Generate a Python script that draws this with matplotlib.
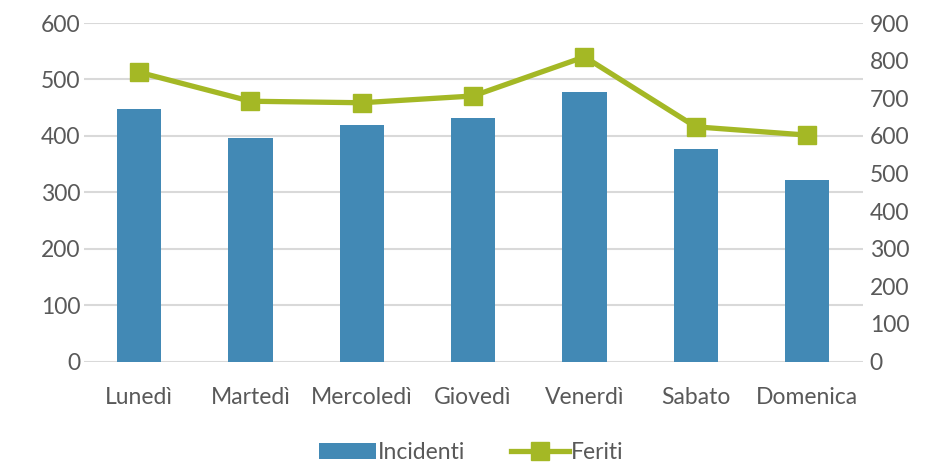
import matplotlib.pyplot as plt
import numpy as np

plt.rcParams['font.family'] = ['Lato', 'DejaVu Sans']

giorni = ["Lunedì", "Martedì", "Mercoledì", "Giovedì", "Venerdì", "Sabato", "Domenica"]
incidenti = [447, 396, 419, 432, 478, 377, 322]
feriti = [769, 692, 688, 706, 810, 624, 602]

blue = "#4289b5"
green = "#a4b825"
grey = "#595959"

fig = plt.figure(figsize=(9.33, 4.63), dpi=100)
ax = fig.add_axes([0.0895, 0.2192, 0.8352, 0.7311])
ax2 = ax.twinx()

x = np.arange(len(giorni))
bars = ax.bar(x, incidenti, width=0.4, color=blue, label="Incidenti", zorder=2)
line, = ax2.plot(x, feriti, color=green, linewidth=3.8, marker="s", markersize=13,
                 label="Feriti", zorder=3)

ax.set_xlim(-0.5, len(giorni) - 0.5)
ax.set_ylim(0, 600)
ax2.set_ylim(0, 900)
ax.set_yticks(range(0, 601, 100))
ax2.set_yticks(range(0, 901, 100))
ax.set_xticks(x)
ax.set_xticklabels(giorni)

ax.grid(axis="y", color="#d9d9d9", linewidth=1.5, zorder=0)
ax.set_axisbelow(True)
for a in (ax, ax2):
    for s in a.spines.values():
        s.set_visible(False)
    a.tick_params(length=0, labelsize=16.5, colors=grey)
ax.tick_params(axis="y", pad=2)
ax2.tick_params(axis="y", pad=5)
ax.tick_params(axis="x", pad=18)

fig.legend([bars, line], ["Incidenti", "Feriti"], loc="center", bbox_to_anchor=(0.505, 0.022),
           ncol=2, frameon=False, fontsize=16.5, labelcolor=grey, handlelength=2.5,
           handletextpad=0.1, columnspacing=2.0)

plt.savefig("out.png", dpi=100)
